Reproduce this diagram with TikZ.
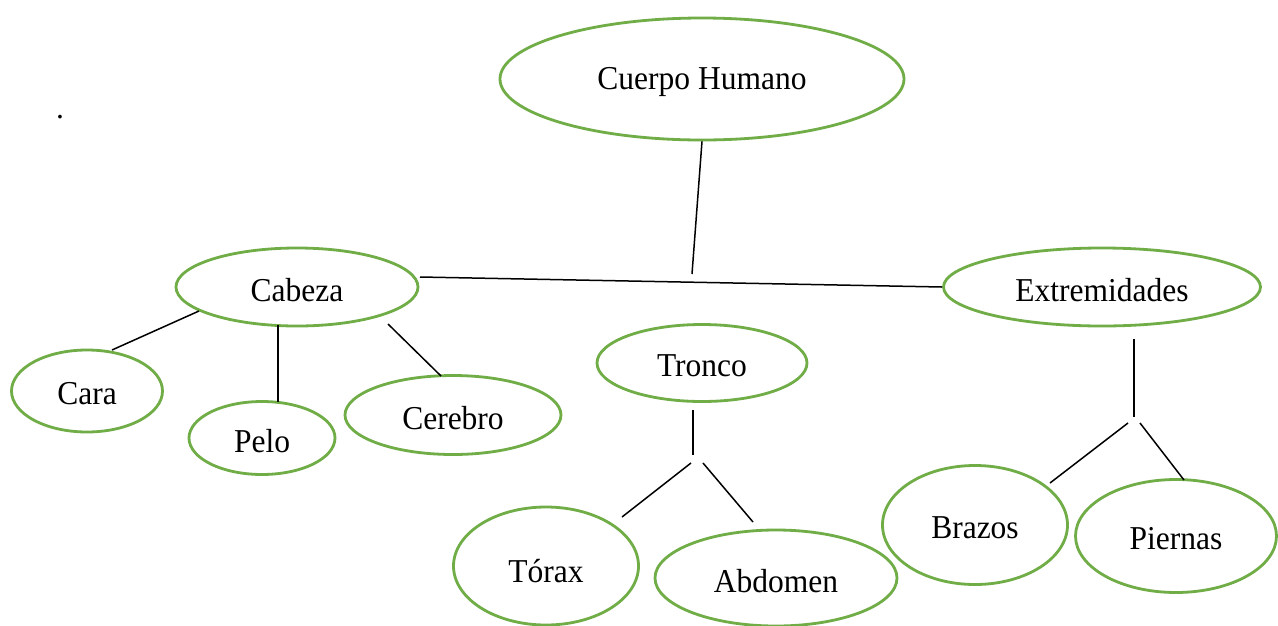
\documentclass[tikz,border=0pt]{standalone}
\usepackage{fontspec}
\usepackage{graphicx}
\setmainfont{Liberation Serif}
\usetikzlibrary{shapes.geometric,calc}
\definecolor{ovalgreen}{RGB}{112,173,71}
\newcommand{\ovtext}[1]{\raisebox{-3pt}[\height][\depth]{\scalebox{1}[1.06]{#1}}}
\begin{document}
\begin{tikzpicture}[x=1pt,y=-1pt,
  oval/.style={ellipse,draw=ovalgreen,line width=2.8pt,inner sep=0pt,
    font=\fontsize{31.5}{36}\selectfont,text=black},
  link/.style={draw=black,line width=1.5pt}]
\useasboundingbox (0,0) rectangle (1278,625);
\fill[white] (0,0) rectangle (1278,625);

\node[oval,minimum width=404pt,minimum height=122pt] (cuerpo) at (702,79) {\ovtext{Cuerpo Humano}};
\node[oval,minimum width=242pt,minimum height=78pt] (cabeza) at (297,287) {\ovtext{Cabeza}};
\node[oval,minimum width=317pt,minimum height=78pt] (extrem) at (1102,287) {\ovtext{Extremidades}};
\node[oval,minimum width=151pt,minimum height=82pt] (cara) at (87,391) {\ovtext{Cara}};
\node[oval,minimum width=146pt,minimum height=73pt] (pelo) at (262,438) {\ovtext{Pelo}};
\node[oval,minimum width=216pt,minimum height=79pt] (cerebro) at (453,415) {\ovtext{Cerebro}};
\node[oval,minimum width=210pt,minimum height=77pt] (tronco) at (702,363) {\ovtext{Tronco}};
\node[oval,minimum width=185pt,minimum height=118pt] (torax) at (546,566) {\raisebox{-5pt}[\height][\depth]{\scalebox{1}[1.06]{Tórax}}};
\node[oval,minimum width=242pt,minimum height=96pt] (abdomen) at (776,578) {\ovtext{Abdomen}};
\node[oval,minimum width=185pt,minimum height=119pt] (brazos) at (975,525) {\ovtext{Brazos}};
\node[oval,minimum width=201pt,minimum height=113pt] (piernas) at (1176,536) {\ovtext{Piernas}};

\node[font=\fontsize{31.5}{36}\selectfont,inner sep=0pt] (dot) at (60,117) {.};

\coordinate (j1) at (692,274);
\coordinate (jt) at (697,460);
\coordinate (je) at (1134,420);

% main connectors
\draw[link] (cuerpo.south) -- (j1);
\draw[link] ($(cabeza.center)+(123,-10)$) -- (extrem.west);

% Cabeza children
\draw[link] ($(cabeza.center)+(-98,24)$) -- ($(cara.center)+(25,-41)$);
\draw[link] ($(cabeza.center)+(-19,38)$) -- ($(pelo.center)+(16,-36)$);
\draw[link] ($(cabeza.center)+(91,37)$) -- ($(cerebro.center)+(-12,-39)$);

% Tronco children
\draw[link] ($(tronco.center)+(-9,47)$) -- ($(jt)+(-4,-5)$);
\draw[link] ($(jt)+(-6,3)$) -- ($(torax.center)+(76,-49)$);
\draw[link] ($(jt)+(6,3)$) -- ($(abdomen.center)+(-23,-56)$);

% Extremidades children
\draw[link] ($(extrem.center)+(32,52)$) -- ($(je)+(0,-3)$);
\draw[link] ($(je)+(-6,3)$) -- ($(brazos.center)+(75,-42)$);
\draw[link] ($(je)+(6,3)$) -- ($(piernas.center)+(8,-56)$);
\end{tikzpicture}
\end{document}
